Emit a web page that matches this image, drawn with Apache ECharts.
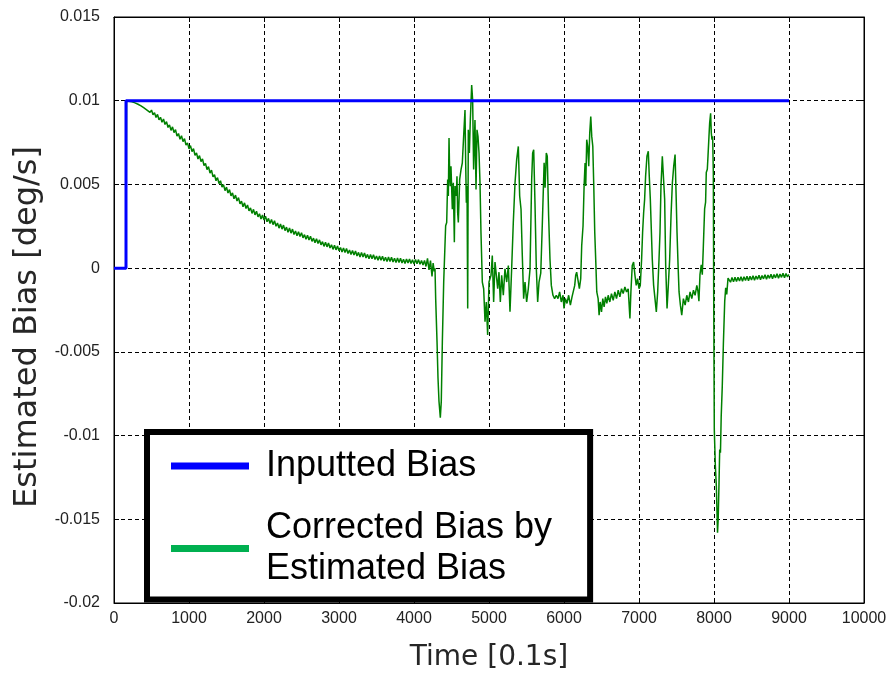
<!DOCTYPE html>
<html><head><meta charset="utf-8">
<script src="https://cdn.jsdelivr.net/npm/echarts@6/dist/echarts.min.js"></script>
<style>html,body{margin:0;padding:0;background:#fff}#c{width:890px;height:677px}</style>
</head><body><div id="c"></div>
<script>
const xTickLabels = ['0','1000','2000','3000','4000','5000','6000','7000','8000','9000','10000'];
const yTickLabels = ['-0.02','-0.015','-0.01','-0.005','0','0.005','0.01','0.015'];
const seriesNames = ['Inputted Bias', 'Corrected Bias by\nEstimated Bias'];
const xTitle = 'Time [0.1s]';
const yTitle = 'Estimated Bias [deg/s]';

// Inputted bias (step)
const inputT = [0, 160, 160, 9000];
const inputV = [0, 0, 0.01, 0.01];

// Corrected bias: start + slow decay segment
const decayT = [0,160,168,
180,200,220,240,260,280,300,320,340,360,
380,400,420,440,460,480,500,520,540,560,
580,600,620,640,660,680,700,720,740,760,
780,800,820,840,860,880,900,920,940,960,
980,1000,1020,1040,1060,1080,1100,1120,1140,1160,
1180,1200,1220,1240,1260,1280,1300,1320,1340,1360,
1380,1400,1420,1440,1460,1480,1500,1520,1540,1560,
1580,1600,1620,1640,1660,1680,1700,1720,1740,1760,
1780,1800,1820,1840,1860,1880,1900,1920,1940,1960,
1980,2000,2020,2040,2060,2080,2100,2120,2140,2160,
2180,2200,2220,2240,2260,2280,2300,2320,2340,2360,
2380,2400,2420,2440,2460,2480,2500,2520,2540,2560,
2580,2600,2620,2640,2660,2680,2700,2720,2740,2760,
2780,2800,2820,2840,2860,2880,2900,2920,2940,2960,
2980,3000,3020,3040,3060,3080,3100,3120,3140,3160,
3180,3200,3220,3240,3260,3280,3300,3320,3340,3360,
3380,3400,3420,3440,3460,3480,3500,3520,3540,3560,
3580,3600,3620,3640,3660,3680,3700,3720,3740,3760,
3780,3800,3820,3840,3860,3880,3900,3920,3940,3960,
3980,4000,4020,4040,4060,4080,4100,4120,4140,4160,
4180,4200,4220,4240,4255,4270,4280];
const decayV = [0,0,9.98e-3,
10.00e-3,9.97e-3,10.02e-3,9.93e-3,9.99e-3,9.87e-3,9.93e-3,9.79e-3,9.86e-3,9.69e-3,
9.76e-3,9.57e-3,9.66e-3,9.44e-3,9.55e-3,9.30e-3,9.44e-3,9.16e-3,9.29e-3,9.00e-3,
9.18e-3,8.86e-3,9.01e-3,8.71e-3,8.91e-3,8.58e-3,8.75e-3,8.40e-3,8.56e-3,8.23e-3,
8.44e-3,8.10e-3,8.27e-3,7.89e-3,8.04e-3,7.70e-3,7.91e-3,7.56e-3,7.73e-3,7.35e-3,
7.48e-3,7.12e-3,7.32e-3,6.96e-3,7.14e-3,6.74e-3,6.88e-3,6.52e-3,6.72e-3,6.36e-3,
6.53e-3,6.13e-3,6.26e-3,5.88e-3,6.06e-3,5.68e-3,5.85e-3,5.45e-3,5.58e-3,5.22e-3,
5.41e-3,5.05e-3,5.22e-3,4.84e-3,4.99e-3,4.63e-3,4.84e-3,4.49e-3,4.69e-3,4.32e-3,
4.49e-3,4.14e-3,4.36e-3,4.01e-3,4.21e-3,3.84e-3,4.00e-3,3.67e-3,3.90e-3,3.56e-3,
3.77e-3,3.42e-3,3.60e-3,3.27e-3,3.51e-3,3.18e-3,3.40e-3,3.06e-3,3.25e-3,2.93e-3,
3.18e-3,2.87e-3,3.10e-3,2.77e-3,2.97e-3,2.66e-3,2.91e-3,2.60e-3,2.83e-3,2.50e-3,
2.70e-3,2.39e-3,2.64e-3,2.33e-3,2.57e-3,2.24e-3,2.45e-3,2.14e-3,2.40e-3,2.09e-3,
2.33e-3,2.01e-3,2.22e-3,1.93e-3,2.17e-3,1.89e-3,2.11e-3,1.81e-3,2.00e-3,1.72e-3,
1.96e-3,1.68e-3,1.90e-3,1.60e-3,1.79e-3,1.51e-3,1.75e-3,1.47e-3,1.69e-3,1.39e-3,
1.58e-3,1.30e-3,1.55e-3,1.27e-3,1.50e-3,1.20e-3,1.40e-3,1.12e-3,1.37e-3,1.09e-3,
1.32e-3,1.03e-3,1.23e-3,0.96e-3,1.21e-3,0.94e-3,1.17e-3,0.88e-3,1.08e-3,0.81e-3,
1.06e-3,0.79e-3,1.02e-3,0.73e-3,0.94e-3,0.67e-3,0.93e-3,0.66e-3,0.90e-3,0.61e-3,
0.82e-3,0.56e-3,0.82e-3,0.56e-3,0.80e-3,0.52e-3,0.73e-3,0.47e-3,0.73e-3,0.47e-3,
0.71e-3,0.43e-3,0.65e-3,0.39e-3,0.66e-3,0.40e-3,0.65e-3,0.37e-3,0.59e-3,0.33e-3,
0.60e-3,0.34e-3,0.59e-3,0.31e-3,0.53e-3,0.28e-3,0.55e-3,0.30e-3,0.55e-3,0.28e-3,
0.50e-3,0.24e-3,0.51e-3,0.26e-3,0.51e-3,0.23e-3,0.45e-3,0.19e-3,0.46e-3,0.10e-3,
0.58e-3,-0.10e-3,0.45e-3,-0.50e-3,0.30e-3,-0.20e-3,0.00];

// Corrected bias: disturbance segment
const burstT = [4289,4307,4320,4333,4351,4364,4378,4396,4413,4422,4436,4449,4458,4467,4476,4484,4493,
4511,4524,4538,4547,4564,4573,4582,4591,4609,4627,4644,4662,4680,4689,4698,4707,4716,4724,4738,4751,4769,4782,4795,4813,4827,4840,4853,4867,4880,4893,
4911,4929,4947,4964,4982,5000,5027,5044,5062,5080,5098,5116,5133,5151,5169,5191,5213,5236,5258,5280,5302,5324,5347,5369,5391,5409,5427,5444,5462,5480,
5502,5524,5547,5569,5582,5596,5613,5631,5649,5667,5690,5710,5735,5748,5764,5777,5795,5813,5831,5853,5875,5897,5920,5942,5964,5987,
6000,6018,6040,6062,6085,6107,6125,6143,6156,6169,6187,6205,6223,6236,6254,6268,6281,6290,6303,6316,6330,6343,6357,6370,6384,6397,6410,6424,6437,6455,6468,6482,
6500,6517,6535,6553,6571,6589,6611,6633,6656,6678,6700,6723,6745,6767,6789,6812,6834,6856,6879,6892,6910,6928,6946,6963,6981,
7000,7017,7035,7048,7062,7075,7088,7106,7124,7137,7151,7164,7177,7195,7213,7231,7249,7267,7280,7293,7311,7329,7342,7356,7374,7391,7409,7427,7445,7463,7481,7494,
7507,7521,7534,7552,7570,7592,7615,7637,7659,7681,7704,7726,7748,7771,7786,7799,7813,7830,7844,7857,7875,7888,7897,7911,7920,7933,7942,7955,7964,7973,7982,7991,7996,
8004,8018,8031,8040,8047,8056,8066,8076,8086,8096,8110,8125,8143,8156,8170,8187];
const burstV = [-1.82e-3,-4.39e-3,-6.56e-3,-7.94e-3,-8.93e-3,-7.94e-3,-4.39e-3,-0.83e-3,-0.83e-3,2.53e-3,2.73e-3,5.30e-3,4.31e-3,7.77e-3,5.49e-3,4.90e-3,6.09e-3,
3.52e-3,5.10e-3,1.54e-3,4.90e-3,4.31e-3,5.49e-3,3.32e-3,2.73e-3,5.30e-3,5.89e-3,6.28e-3,7.87e-3,9.45e-3,6.28e-3,3.91e-3,4.90e-3,-2.41e-3,8.26e-3,6.88e-3,8.85e-3,10.93e-3,10.04e-3,5.89e-3,8.85e-3,4.70e-3,8.26e-3,7.87e-3,6.88e-3,5.10e-3,2.13e-3,
-0.83e-3,-1.23e-3,-3.20e-3,-2.02e-3,-3.99e-3,-0.83e-3,-0.43e-3,0.75e-3,-2.02e-3,0.36e-3,-0.43e-3,-1.23e-3,-0.24e-3,-2.02e-3,-0.43e-3,-1.62e-3,-0.04e-3,-0.83e-3,0.16e-3,-2.61e-3,-0.04e-3,2.73e-3,5.10e-3,6.48e-3,7.27e-3,4.31e-3,3.52e-3,0.75e-3,-1.82e-3,-0.83e-3,
-2.02e-3,-1.23e-3,-0.04e-3,5.30e-3,6.88e-3,7.07e-3,3.91e-3,-0.04e-3,-2.02e-3,-0.83e-3,-0.30e-3,2.50e-3,6.30e-3,4.80e-3,6.88e-3,6.68e-3,3.12e-3,0.55e-3,-1.03e-3,-1.62e-3,-1.82e-3,-1.62e-3,-1.82e-3,-1.42e-3,-2.02e-3,-1.62e-3,
-2.41e-3,-1.82e-3,-2.11e-3,-1.62e-3,-2.21e-3,-1.72e-3,-1.82e-3,-1.03e-3,-0.43e-3,-0.24e-3,-0.73e-3,-1.23e-3,-0.63e-3,1.34e-3,2.53e-3,4.90e-3,6.28e-3,4.90e-3,7.67e-3,7.27e-3,6.09e-3,8.06e-3,9.05e-3,7.87e-3,7.27e-3,4.90e-3,2.13e-3,0.36e-3,-1.42e-3,-1.82e-3,-2.81e-3,-2.02e-3,
-2.61e-3,-1.82e-3,-2.31e-3,-1.72e-3,-2.11e-3,-1.62e-3,-2.02e-3,-1.52e-3,-1.92e-3,-1.42e-3,-1.82e-3,-1.32e-3,-1.72e-3,-1.23e-3,-1.52e-3,-1.13e-3,-1.42e-3,-1.23e-3,-3.00e-3,-1.42e-3,0.16e-3,0.36e-3,-0.43e-3,-1.03e-3,-0.63e-3,
-1.23e-3,-1.03e-3,0.55e-3,2.13e-3,3.32e-3,4.11e-3,5.49e-3,6.68e-3,6.98e-3,5.49e-3,4.11e-3,2.33e-3,0.55e-3,-1.03e-3,-1.82e-3,-2.61e-3,-1.42e-3,0.55e-3,2.13e-3,4.90e-3,6.68e-3,6.58e-3,4.11e-3,0.16e-3,-2.41e-3,-1.03e-3,0.55e-3,3.12e-3,5.10e-3,6.09e-3,6.78e-3,4.51e-3,
2.13e-3,0.16e-3,-1.42e-3,-2.21e-3,-2.81e-3,-1.82e-3,-2.21e-3,-1.62e-3,-2.02e-3,-1.42e-3,-1.82e-3,-1.32e-3,-1.62e-3,-1.03e-3,-1.38e-3,-1.97e-3,-0.39e-3,0.20e-3,-0.39e-3,1.18e-3,3.54e-3,3.94e-3,5.71e-3,5.91e-3,6.69e-3,7.87e-3,8.66e-3,9.25e-3,8.07e-3,7.68e-3,7.87e-3,5.71e-3,-1.57e-3,
-9.65e-3,-11.81e-3,-12.99e-3,-14.57e-3,-15.80e-3,-14.96e-3,-12.99e-3,-10.83e-3,-11.02e-3,-8.86e-3,-7.09e-3,-4.53e-3,-1.97e-3,-1.18e-3,-1.57e-3,-0.59e-3];

// Corrected bias: recovery tail
const tailT = [8200,8220,8240,8260,8280,8300,8320,8340,8360,8380,
8400,8420,8440,8460,8480,8500,8520,8540,8560,8580,
8600,8620,8640,8660,8680,8700,8720,8740,8760,8780,
8800,8820,8840,8860,8880,8900,8920,8940,8960,8980,
9000];
const tailV = [-0.60e-3,-0.84e-3,-0.56e-3,-0.82e-3,-0.54e-3,-0.80e-3,-0.55e-3,-0.77e-3,-0.51e-3,-0.78e-3,
-0.52e-3,-0.74e-3,-0.48e-3,-0.75e-3,-0.49e-3,-0.71e-3,-0.45e-3,-0.72e-3,-0.47e-3,-0.67e-3,
-0.42e-3,-0.69e-3,-0.44e-3,-0.64e-3,-0.39e-3,-0.66e-3,-0.41e-3,-0.61e-3,-0.36e-3,-0.63e-3,
-0.38e-3,-0.58e-3,-0.33e-3,-0.60e-3,-0.35e-3,-0.55e-3,-0.30e-3,-0.57e-3,-0.32e-3,-0.52e-3,
-0.38e-3];

const X_MIN = 0, X_MAX = 10000, X_STEP = 1000;
const Y_MIN = -0.02, Y_MAX = 0.015, Y_STEP = 0.005;

const zip = (ts, vs) => ts.map((t, i) => [t, vs[i]]);
const corrData = zip(decayT, decayV).concat(zip(burstT, burstV), zip(tailT, tailV));

const chart = echarts.init(document.getElementById('c'), null, {renderer: 'canvas'});
const tickFont = {fontFamily: 'Liberation Sans', fontSize: 16, color: '#222'};
const axisLineStyle = {color: '#000', width: 1};
const gridLine = {show: true, lineStyle: {color: '#000', type: [4, 3], width: 1}};

const option = {
  animation: false,
  backgroundColor: '#fff',
  grid: {left: 114, top: 17, width: 750, height: 590, show: true, borderColor: '#000', borderWidth: 1, backgroundColor: 'transparent', containLabel: false},
  legend: {
    orient: 'vertical', left: 147, top: 432,
    padding: [13.5, 38, 10, 24], itemGap: 21,
    icon: 'rect', itemWidth: 78, itemHeight: 7,
    selectedMode: false,
    backgroundColor: '#fff', borderColor: '#000', borderWidth: 6, borderRadius: 0,
    textStyle: {fontFamily: 'Liberation Sans', fontSize: 36, color: '#000', lineHeight: 41, padding: [0, 0, 0, 12]},
    data: [
      {name: seriesNames[0], itemStyle: {color: '#0000ff'}},
      {name: seriesNames[1], itemStyle: {color: '#00b050'}}
    ],
    z: 10
  },
  xAxis: [
    {type: 'value', min: X_MIN, max: X_MAX, interval: X_STEP, position: 'bottom',
     axisLine: {show: true, onZero: false, lineStyle: axisLineStyle},
     axisTick: {show: true, inside: true, length: 5, lineStyle: axisLineStyle},
     axisLabel: Object.assign({margin: 8, formatter: v => xTickLabels[Math.round((v - X_MIN) / X_STEP)]}, tickFont),
     splitLine: gridLine,
     name: xTitle, nameLocation: 'middle', nameGap: 41,
     nameTextStyle: {fontFamily: 'DejaVu Sans', fontSize: 28, color: '#262626'}},
    {type: 'value', min: X_MIN, max: X_MAX, interval: X_STEP, position: 'top',
     axisLine: {show: true, onZero: false, lineStyle: axisLineStyle},
     axisTick: {show: true, inside: true, length: 5, lineStyle: axisLineStyle},
     axisLabel: {show: false}, splitLine: {show: false}}
  ],
  yAxis: [
    {type: 'value', min: Y_MIN, max: Y_MAX, interval: Y_STEP, position: 'left',
     axisLine: {show: true, onZero: false, lineStyle: axisLineStyle},
     axisTick: {show: true, inside: true, length: 5, lineStyle: axisLineStyle},
     axisLabel: Object.assign({margin: 14, formatter: v => yTickLabels[Math.round((v - Y_MIN) / Y_STEP)]}, tickFont),
     splitLine: gridLine,
     name: yTitle, nameLocation: 'middle', nameGap: 70, nameRotate: 90,
     nameTextStyle: {fontFamily: 'DejaVu Sans', fontSize: 32, color: '#262626', padding: [0, 34, 0, 0]}},
    {type: 'value', min: Y_MIN, max: Y_MAX, interval: Y_STEP, position: 'right',
     axisLine: {show: true, onZero: false, lineStyle: axisLineStyle},
     axisTick: {show: true, inside: true, length: 5, lineStyle: axisLineStyle},
     axisLabel: {show: false}, splitLine: {show: false}}
  ],
  series: [
    {name: seriesNames[0], type: 'line', xAxisIndex: 0, yAxisIndex: 0,
     data: zip(inputT, inputV),
     symbol: 'none', showSymbol: false, lineStyle: {color: '#0000ff', width: 3}, itemStyle: {color: '#0000ff'}, z: 3},
    {name: seriesNames[1], type: 'line', xAxisIndex: 0, yAxisIndex: 0,
     data: corrData,
     symbol: 'none', showSymbol: false, lineStyle: {color: '#008000', width: 1.5}, itemStyle: {color: '#008000'}, z: 2}
  ]
};
chart.setOption(option);
</script>
</body></html>
